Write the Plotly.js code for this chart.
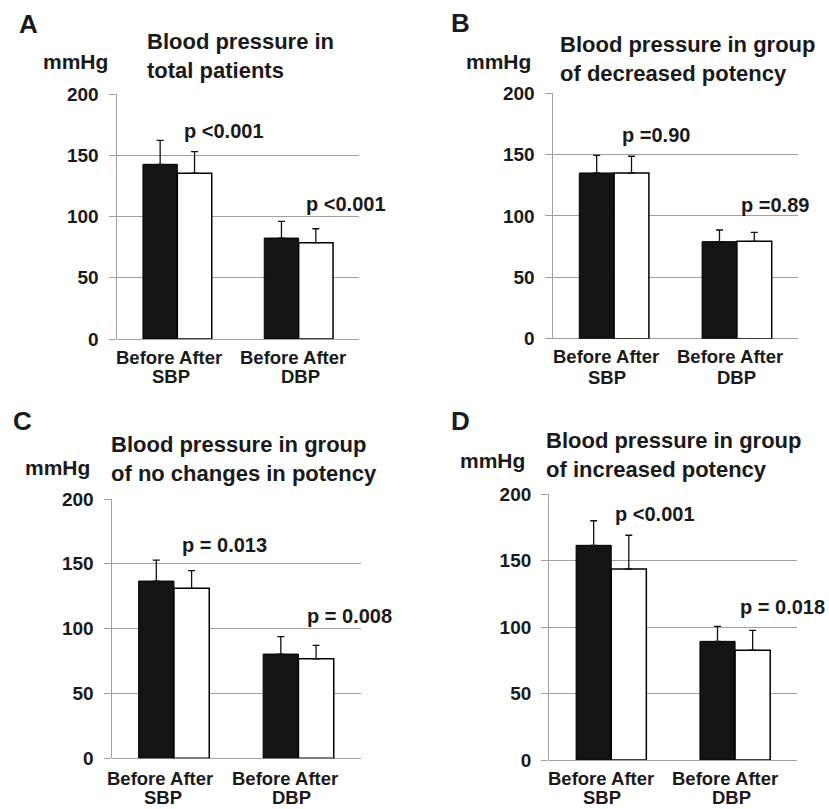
<!DOCTYPE html>
<html>
<head>
<meta charset="utf-8">
<script src="https://cdn.plot.ly/plotly-3.0.1.min.js"></script>
<style>html,body{margin:0;padding:0;background:#fff;}#chart{width:829px;height:809px;}</style>
</head>
<body>
<div id="chart"></div>
<script>
// ---- data ----
const panelLetters = ['A', 'B', 'C', 'D'];
const panelTitles = [
  'Blood pressure in<br>total patients',
  'Blood pressure in group<br>of decreased potency',
  'Blood pressure in group<br>of no changes in potency',
  'Blood pressure in group<br>of increased potency'
];
const groups = ['SBP', 'DBP'];
const barNames = ['Before', 'After'];
const beforeMeans = [[142.6, 82.4], [134.9, 79.0], [136.7, 80.4], [161.4, 89.2]];
const afterMeans  = [[135.3, 78.6], [134.9, 79.3], [131.1, 76.8], [143.6, 82.5]];
const beforeErrs  = [[19.6, 13.7], [14.4, 9.5], [16.2, 13.4], [18.5, 11.3]];
const afterErrs   = [[17.6, 11.4], [13.6, 7.3], [13.6, 10.3], [25.4, 15.0]];
const pLabels = [
  ['p <0.001', 'p <0.001'],
  ['p =0.90', 'p =0.89'],
  ['p = 0.013', 'p = 0.008'],
  ['p <0.001', 'p = 0.018']
];
const yTicks = [0, 50, 100, 150, 200];
const yUnit = 'mmHg';

// ---- layout geometry (pixels) ----
const W = 829, H = 809;
const boxes = [
  {l: 116.7, r: 359.3, t: 94, b: 339},
  {l: 552.7, r: 798.3, t: 93, b: 338.7},
  {l: 111.7, r: 360.7, t: 499, b: 758.3},
  {l: 549.3, r: 797, t: 494, b: 760}
];
const letterPos = [[28, 24], [460.5, 23], [22.5, 421], [460.8, 421]];
const unitPos = [[75, 62], [498.7, 61], [57.5, 467], [492, 460]];
const titlePos = [[146, 55.5], [559, 58.7], [110, 459], [545, 455]];
const pPos = [
  [[183, 131], [305, 204]],
  [[621, 135], [740, 205]],
  [[180.5, 545], [305.5, 616]],
  [[614, 513.5], [739, 607]]
];
const catLinePos = [
  [[169, 357], [293.2, 357]],
  [[605.5, 356], [730, 356]],
  [[160.3, 778.5], [284.8, 778.5]],
  [[600.5, 778.3], [725.3, 778.3]]
];
const grpLinePos = [
  [[170.8, 376.5], [300, 376.5]],
  [[606.7, 377], [736.7, 377]],
  [[162.5, 797.5], [291.7, 797.5]],
  [[601.7, 797.5], [731.7, 797.5]]
];

const FONT = 'Liberation Sans, Arial, Helvetica, sans-serif';
const TXT = '#1a1a1a';
const GRID = '#a0a0a0';
const px = (x, y) => ({x: x / W, y: 1 - y / H});

const traces = [];
const layout = {
  width: W, height: H,
  margin: {l: 0, r: 0, t: 0, b: 0},
  paper_bgcolor: '#fff', plot_bgcolor: '#fff',
  showlegend: false,
  barmode: 'group', bargap: 0.433, bargroupgap: 0,
  font: {family: FONT, color: TXT},
  annotations: []
};

function ann(text, pos, size, xanchor, align) {
  const p = px(pos[0], pos[1]);
  layout.annotations.push({
    xref: 'paper', yref: 'paper', x: p.x, y: p.y,
    xanchor: xanchor || 'center', yanchor: 'middle', align: align || 'center',
    showarrow: false, text: text, borderpad: 0,
    font: {family: FONT, size: size, color: TXT, weight: 'bold'}
  });
}

for (let i = 0; i < 4; i++) {
  const sfx = i === 0 ? '' : String(i + 1);
  const b = boxes[i];
  const xa = 'x' + sfx, ya = 'y' + sfx;
  traces.push({
    type: 'bar', name: barNames[0], x: groups, y: beforeMeans[i],
    xaxis: xa, yaxis: ya,
    marker: {color: '#141414', line: {color: '#000', width: 1}},
    error_y: {type: 'data', symmetric: false, array: beforeErrs[i], arrayminus: [0, 0],
              color: '#111', thickness: 1.3, width: 3.5},
    hoverinfo: 'skip'
  });
  traces.push({
    type: 'bar', name: barNames[1], x: groups, y: afterMeans[i],
    xaxis: xa, yaxis: ya,
    marker: {color: '#ffffff', line: {color: '#000', width: 1.5}},
    error_y: {type: 'data', symmetric: false, array: afterErrs[i], arrayminus: [0, 0],
              color: '#111', thickness: 1.3, width: 3.5},
    hoverinfo: 'skip'
  });
  layout['xaxis' + sfx] = {
    domain: [b.l / W, b.r / W], anchor: ya, type: 'category',
    categoryorder: 'array', categoryarray: groups,
    range: [-0.5, 1.5], showticklabels: false, showgrid: false,
    zeroline: false, showline: false, ticks: '', fixedrange: true
  };
  layout['yaxis' + sfx] = {
    domain: [1 - b.b / H, 1 - b.t / H], anchor: xa,
    range: [0, 200], tickvals: yTicks, ticktext: yTicks.map(String),
    showgrid: true, gridcolor: GRID, gridwidth: 1,
    zeroline: true, zerolinecolor: GRID, zerolinewidth: 1,
    showline: true, linecolor: GRID, linewidth: 1.2,
    ticks: 'outside', ticklen: 7, tickcolor: GRID, tickwidth: 1,
    ticklabelstandoff: 6,
    tickfont: {family: FONT, size: 19, color: TXT, weight: 'bold'},
    fixedrange: true
  };

  ann(panelLetters[i], letterPos[i], 26);
  ann(yUnit, unitPos[i], 21);
  ann(panelTitles[i], titlePos[i], 22, 'left', 'left');
  for (let g = 0; g < 2; g++) {
    ann(pLabels[i][g], pPos[i][g], 20, 'left', 'left');
    ann(barNames.join(' '), catLinePos[i][g], 18.5);
    ann(groups[g], grpLinePos[i][g], 18.5);
  }
}

Plotly.newPlot('chart', traces, layout, {displayModeBar: false, staticPlot: true});
</script>
</body>
</html>
